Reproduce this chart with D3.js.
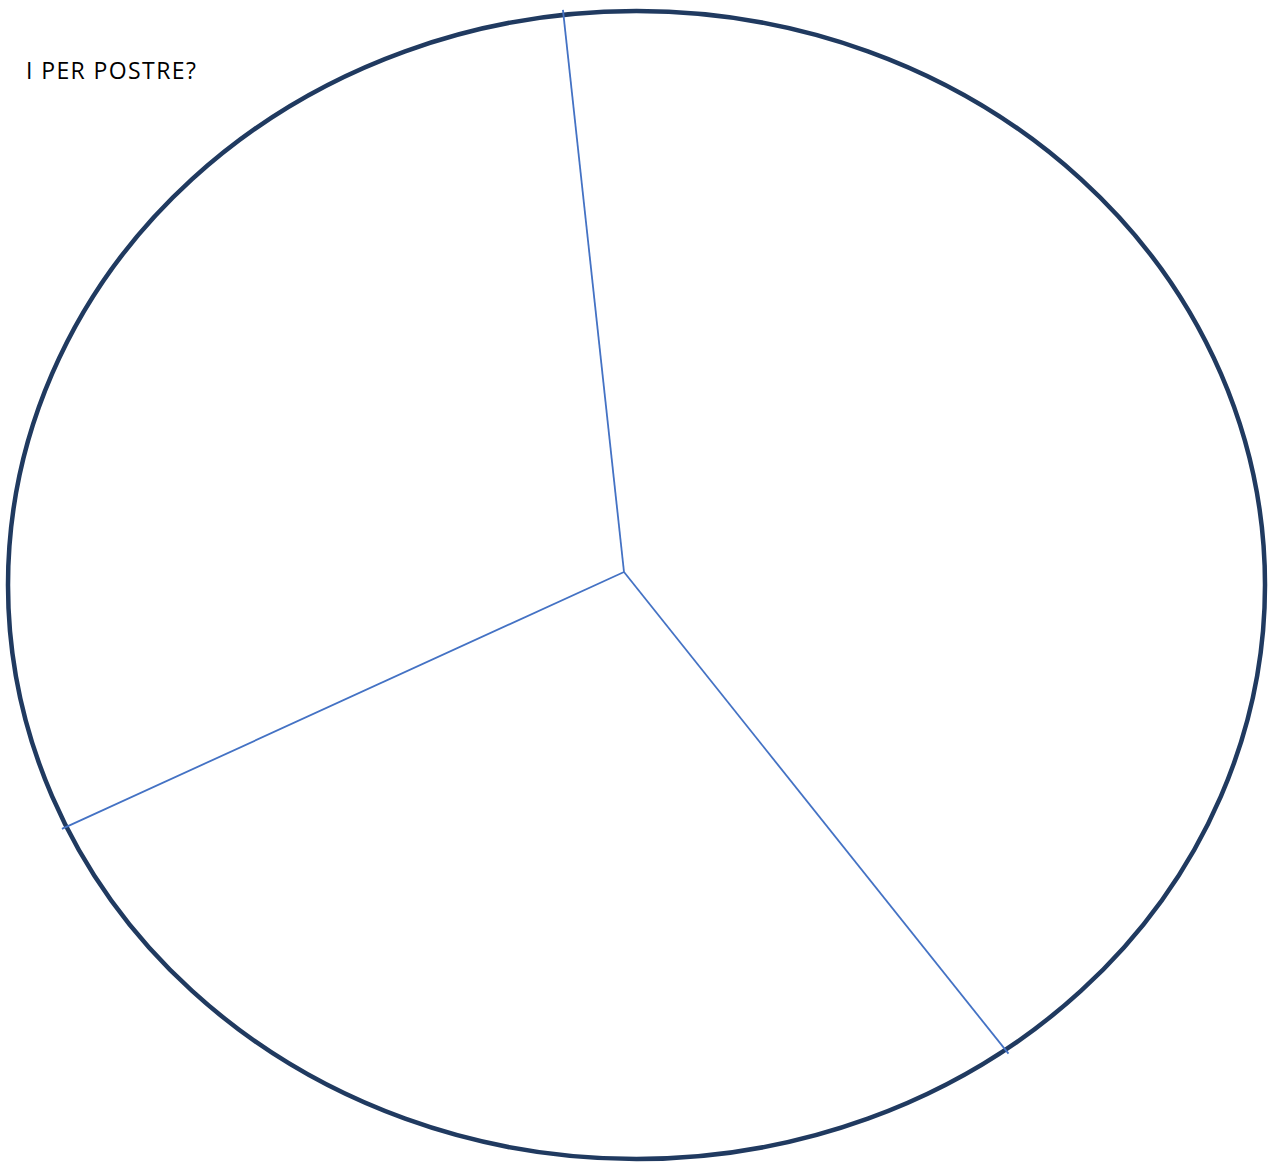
<!DOCTYPE html>
<html>
<head>
<meta charset="utf-8">
<script src="https://cdn.jsdelivr.net/npm/d3@7"></script>
<style>
  body { margin: 0; background: #fff; }
  svg { display: block; }
</style>
</head>
<body>
<svg></svg>
<script>

var title = "I PER POSTRE?"
var categories = ["A", "B", "C"]
var values = [41, 28.9, 30.1]

var win_width = 1280;
var win_height = 1163;

var svg = d3.select("svg")
    .attr("width", win_width)
    .attr("height", win_height);

// outline ellipse and the pie centre are not the same point in the original
var ell = { cx: 636.5, cy: 585, rx: 628.5, ry: 574 };
var center = { x: 624, y: 572 };
var overshoot = 5;

var startAngle = -6.2 * Math.PI / 180;

var pie = d3.pie()
    .sort(null)
    .value(d => d.value)
    .startAngle(startAngle)
    .endAngle(startAngle + 2 * Math.PI);

var data = categories.map((c, i) => { return { name: c, value: values[i] } });
var arcs = pie(data);

// distance from centre to the ellipse along a pie angle
function rayLength(angle) {
    var dx = Math.sin(angle), dy = -Math.cos(angle);
    var ox = center.x - ell.cx, oy = center.y - ell.cy;
    var a = dx * dx / (ell.rx * ell.rx) + dy * dy / (ell.ry * ell.ry);
    var b = 2 * (ox * dx / (ell.rx * ell.rx) + oy * dy / (ell.ry * ell.ry));
    var c = ox * ox / (ell.rx * ell.rx) + oy * oy / (ell.ry * ell.ry) - 1;
    return (-b + Math.sqrt(b * b - 4 * a * c)) / (2 * a);
}

svg.append("ellipse")
    .attr("cx", ell.cx)
    .attr("cy", ell.cy)
    .attr("rx", ell.rx)
    .attr("ry", ell.ry)
    .attr("fill", "white")
    .attr("stroke", "#203a60")
    .attr("stroke-width", 4.5);

svg.append("g")
    .selectAll("line")
    .data(arcs)
    .join("line")
    .attr("x1", center.x)
    .attr("y1", center.y)
    .attr("x2", d => center.x + Math.sin(d.startAngle) * (rayLength(d.startAngle) + overshoot))
    .attr("y2", d => center.y - Math.cos(d.startAngle) * (rayLength(d.startAngle) + overshoot))
    .attr("stroke", "#4472c4")
    .attr("stroke-width", 1.8);

svg.append("text")
    .attr("x", 26)
    .attr("y", 78.5)
    .attr("font-family", "Open Sans")
    .attr("font-size", 23)
    .attr("letter-spacing", 1.4)
    .attr("fill", "#000")
    .text(title);

</script>
</body>
</html>
